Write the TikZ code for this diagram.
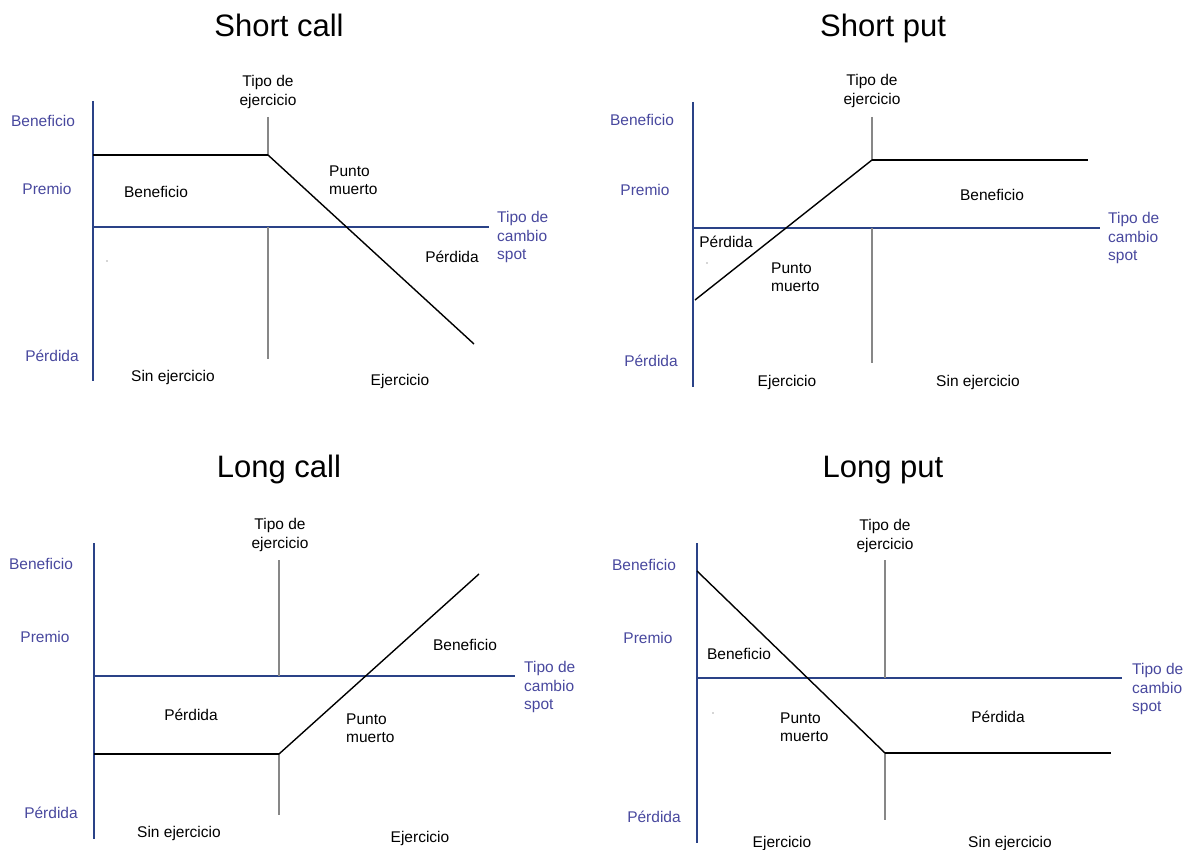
\documentclass[tikz,border=0pt]{standalone}
\usepackage{fontspec}
\setmainfont{Liberation Sans}
\definecolor{axisblue}{RGB}{42,66,135}
\definecolor{lblblue}{RGB}{72,72,158}
\definecolor{strikegray}{RGB}{135,135,135}
\begin{document}
\begin{tikzpicture}[x=1pt,y=-1pt,
  axis/.style={draw=axisblue,line width=2pt},
  strike/.style={draw=strikegray,line width=2pt},
  payoff/.style={draw=black,line width=1.9pt,line join=round},
  slope/.style={draw=black,line width=1.4pt},
  ttl/.style={font=\fontsize{31}{36}\selectfont,inner sep=0pt,text height=23pt,text depth=0pt},
  lbl/.style={font=\fontsize{15.5}{18.5}\selectfont,inner sep=0pt},
  side/.style={lbl,text=lblblue},
  zone/.style={lbl,text=black},
  spot/.style={lbl,text=lblblue,align=left,anchor=west},
  stk/.style={lbl,text=black,align=center},
  pm/.style={lbl,text=black,align=left,anchor=west},
  speck/.style={fill=black!70,inner sep=0pt,minimum size=1.2pt,circle}]
\useasboundingbox (0,0) rectangle (1195,850);

% ---------------- Short call ----------------
\node[ttl] (t1) at (279,25) {Short call};
\coordinate (a1t) at (93,101); \coordinate (a1b) at (93,381);
\coordinate (a1o) at (93,227); \coordinate (a1r) at (489,227);
\draw[axis] (a1t) -- (a1b);
\draw[axis] (a1o) -- (a1r);
\coordinate (s1u) at (268,117); \coordinate (s1k) at (268,155);
\coordinate (s1m) at (268,227); \coordinate (s1d) at (268,359);
\draw[strike] (s1u) -- (s1k);
\draw[strike] (s1m) -- (s1d);
\coordinate (p1a) at (93,155); \coordinate (p1e) at (474,344);
\draw[payoff] (p1a) -- (s1k);
\draw[slope] (s1k) -- (p1e);
\node[stk] (k1) at (268,92) {Tipo de\\ejercicio};
\node[spot] (x1) at (497,237) {Tipo de\\cambio\\spot};
\node[side] (b1) at (43,121) {Beneficio};
\node[side] (r1) at (47,189) {Premio};
\node[side] (l1) at (52,356) {Pérdida};
\node[zone] (z1a) at (156,192) {Beneficio};
\node[pm] (m1) at (329,180) {Punto\\muerto};
\node[zone] (z1b) at (452,257) {Pérdida};
\node[zone] (n1) at (173,377) {Sin ejercicio};
\node[zone] (e1) at (400,381) {Ejercicio};
\node[speck] (d1) at (107,261) {};

% ---------------- Short put ----------------
\node[ttl] (t2) at (883,25) {Short put};
\coordinate (a2t) at (693,102); \coordinate (a2b) at (693,387);
\coordinate (a2o) at (693,228); \coordinate (a2r) at (1100,228);
\draw[axis] (a2t) -- (a2b);
\draw[axis] (a2o) -- (a2r);
\coordinate (s2u) at (872,117); \coordinate (s2k) at (872,160);
\coordinate (s2m) at (872,228); \coordinate (s2d) at (872,363);
\draw[strike] (s2u) -- (s2k);
\draw[strike] (s2m) -- (s2d);
\coordinate (p2a) at (695,300); \coordinate (p2e) at (1088,160);
\draw[slope] (p2a) -- (s2k);
\draw[payoff] (s2k) -- (p2e);
\node[stk] (k2) at (872,91) {Tipo de\\ejercicio};
\node[spot] (x2) at (1108,238) {Tipo de\\cambio\\spot};
\node[side] (b2) at (642,120) {Beneficio};
\node[side] (r2) at (645,190) {Premio};
\node[side] (l2) at (651,361) {Pérdida};
\node[zone] (z2a) at (992,195) {Beneficio};
\node[zone] (z2b) at (726,242) {Pérdida};
\node[pm] (m2) at (771,277) {Punto\\muerto};
\node[zone] (e2) at (787,382) {Ejercicio};
\node[zone] (n2) at (978,382) {Sin ejercicio};
\node[speck] (d2) at (707,263) {};

% ---------------- Long call ----------------
\node[ttl] (t3) at (279,466) {Long call};
\coordinate (a3t) at (94,543); \coordinate (a3b) at (94,839);
\coordinate (a3o) at (94,676); \coordinate (a3r) at (515,676);
\draw[axis] (a3t) -- (a3b);
\draw[axis] (a3o) -- (a3r);
\coordinate (s3u) at (279,560); \coordinate (s3m) at (279,676);
\coordinate (s3k) at (279,754); \coordinate (s3d) at (279,815);
\draw[strike] (s3u) -- (s3m);
\draw[strike] (s3k) -- (s3d);
\coordinate (p3a) at (94,754); \coordinate (p3e) at (479,574);
\draw[payoff] (p3a) -- (s3k);
\draw[slope] (s3k) -- (p3e);
\node[stk] (k3) at (280,535) {Tipo de\\ejercicio};
\node[spot] (x3) at (524,687) {Tipo de\\cambio\\spot};
\node[side] (b3) at (41,564) {Beneficio};
\node[side] (r3) at (45,637) {Premio};
\node[side] (l3) at (51,813) {Pérdida};
\node[zone] (z3a) at (465,645) {Beneficio};
\node[zone] (z3b) at (191,715) {Pérdida};
\node[pm] (m3) at (346,728) {Punto\\muerto};
\node[zone] (n3) at (179,833) {Sin ejercicio};
\node[zone] (e3) at (420,838) {Ejercicio};

% ---------------- Long put ----------------
\node[ttl] (t4) at (883,466) {Long put};
\coordinate (a4t) at (697,543); \coordinate (a4b) at (697,843);
\coordinate (a4o) at (697,678); \coordinate (a4r) at (1122,678);
\draw[axis] (a4t) -- (a4b);
\draw[axis] (a4o) -- (a4r);
\coordinate (s4u) at (885,560); \coordinate (s4m) at (885,678);
\coordinate (s4k) at (885,753); \coordinate (s4d) at (885,820);
\draw[strike] (s4u) -- (s4m);
\draw[strike] (s4k) -- (s4d);
\coordinate (p4a) at (697,571); \coordinate (p4e) at (1111,753);
\draw[slope] (p4a) -- (s4k);
\draw[payoff] (s4k) -- (p4e);
\node[stk] (k4) at (885,536) {Tipo de\\ejercicio};
\node[spot] (x4) at (1132,689) {Tipo de\\cambio\\spot};
\node[side] (b4) at (644,565) {Beneficio};
\node[side] (r4) at (648,638) {Premio};
\node[side] (l4) at (654,817) {Pérdida};
\node[zone] (z4a) at (739,654) {Beneficio};
\node[pm] (m4) at (780,727) {Punto\\muerto};
\node[zone] (z4b) at (998,717) {Pérdida};
\node[zone] (e4) at (782,843) {Ejercicio};
\node[zone] (n4) at (1010,843) {Sin ejercicio};
\node[speck] (d4) at (713,713) {};
\end{tikzpicture}
\end{document}
